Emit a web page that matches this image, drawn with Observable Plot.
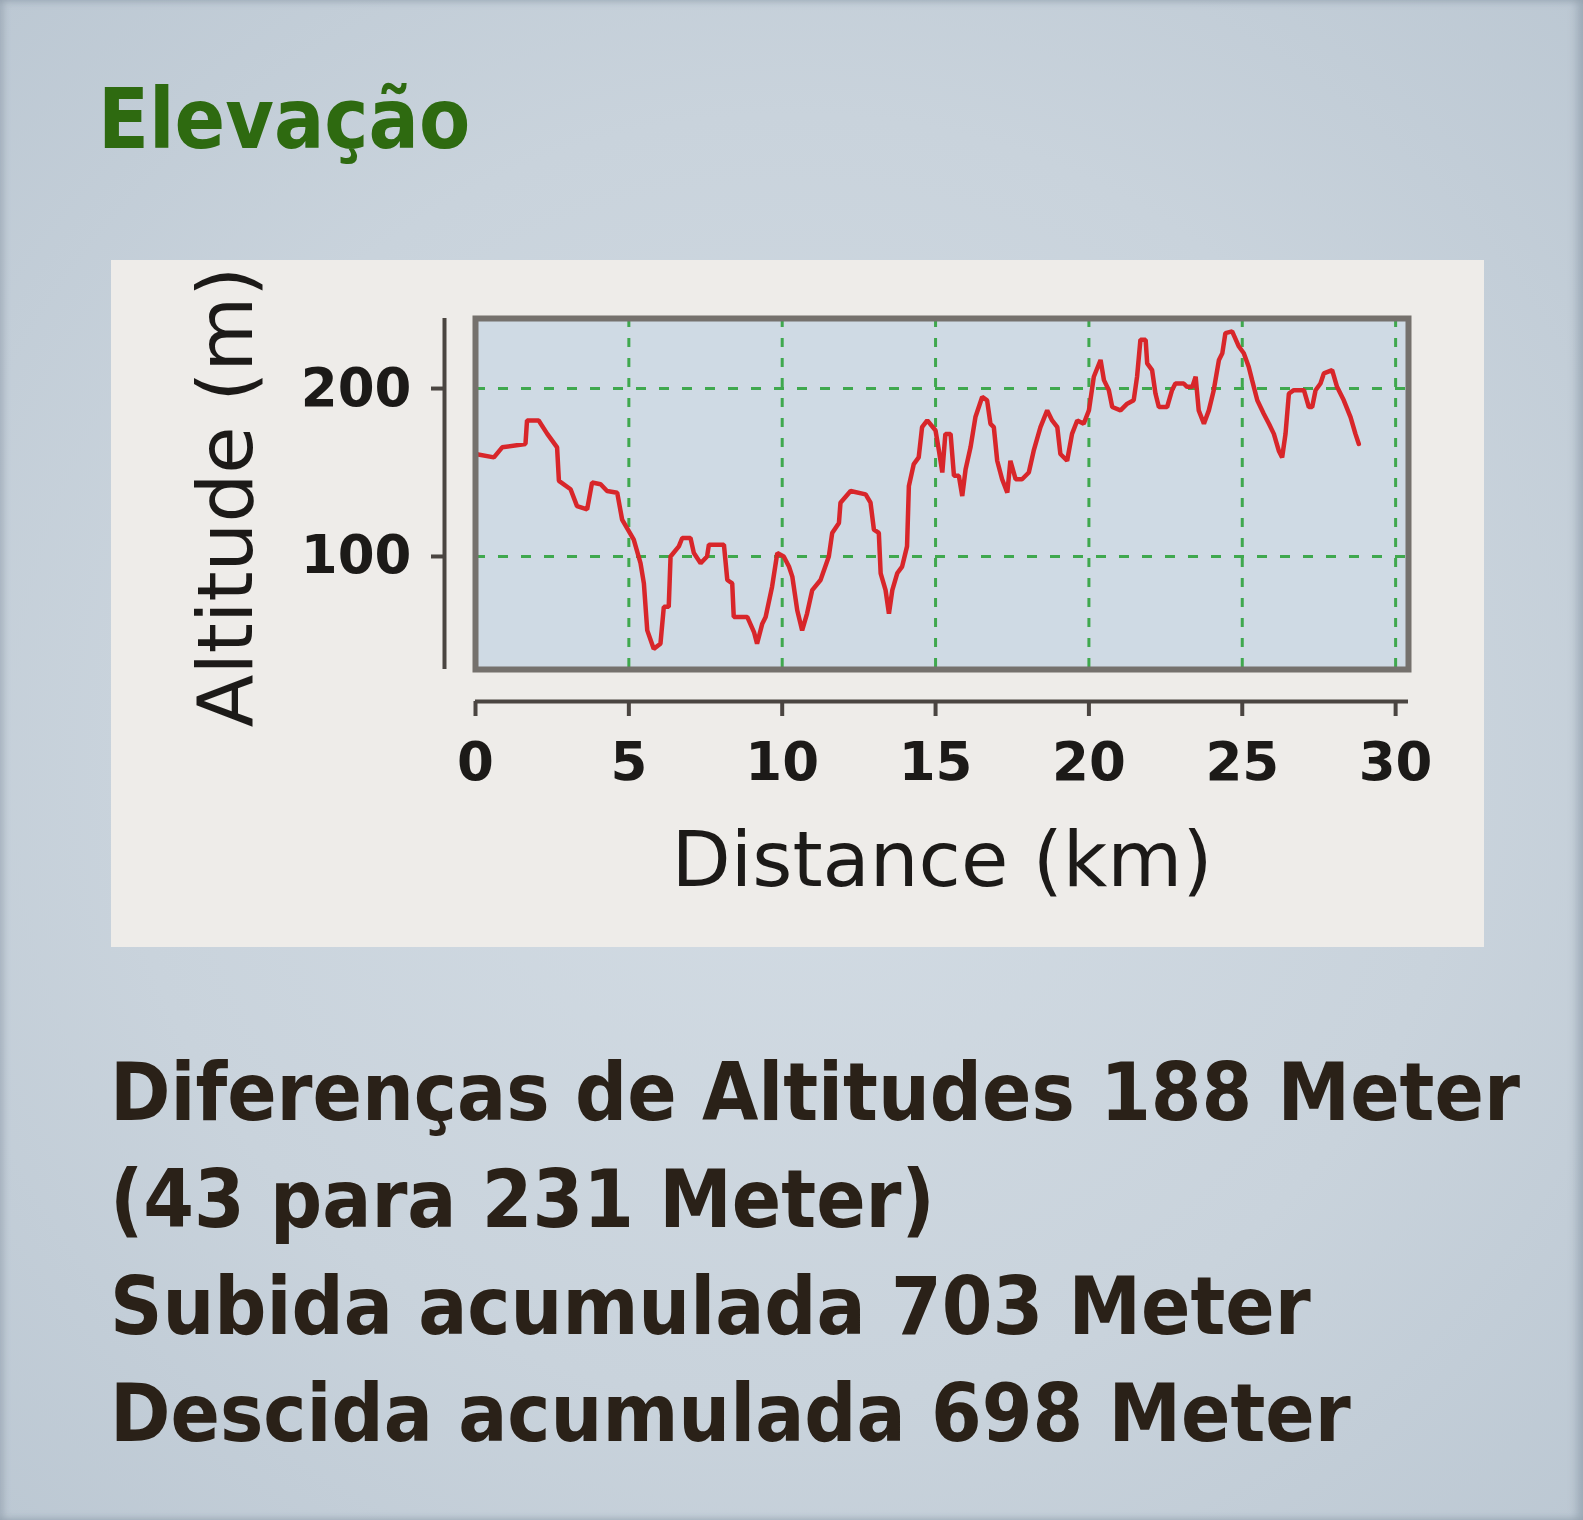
<!DOCTYPE html>
<html>
<head>
<meta charset="utf-8">
<script src="https://cdn.jsdelivr.net/npm/d3@7"></script>
<script src="https://cdn.jsdelivr.net/npm/@observablehq/plot@0.6"></script>
<style>
  html, body { margin: 0; padding: 0; }
  body {
    width: 1583px; height: 1520px; position: relative; overflow: hidden;
    background: radial-gradient(ellipse at 50% 50%, #d3dce4 0%, #c9d3dc 60%, #bcc8d3 100%);
    box-shadow: inset 4px 0 6px rgba(120,135,150,0.35), inset -6px 0 8px rgba(120,135,150,0.45);
  }
  #title {
    position: absolute; left: 98px; top: 78px;
    font-family: "DejaVu Sans Condensed", "DejaVu Sans", sans-serif;
    font-weight: bold; font-size: 83px; line-height: 83px; color: #2e6a10;
  }
  #panel {
    position: absolute; left: 111px; top: 260px; width: 1373px; height: 687px;
    background: #eeece9;
  }
  #panel svg { display: block; }
  #stats {
    position: absolute; left: 110px; top: 1039px;
    font-family: "DejaVu Sans Condensed", "DejaVu Sans", sans-serif;
    font-weight: bold; font-size: 81px; line-height: 107px; color: #2a2118;
    white-space: nowrap;
  }
</style>
</head>
<body>
<div id="title"></div>
<div id="panel"></div>
<div id="stats"></div>
<script>
// ---- data ----
const distanceKm = [0, 0.60, 0.87, 1.63, 1.68, 2.06, 2.34, 2.66, 2.72, 3.10, 3.31, 3.64, 3.80, 4.08, 4.29, 4.62, 4.78,
  5.16, 5.38, 5.49, 5.60, 5.81, 6.03, 6.14, 6.30, 6.36, 6.63, 6.74, 7.01, 7.12, 7.34, 7.55, 7.61, 8.10, 8.21, 8.37, 8.42,
  8.86, 9.08, 9.18, 9.35, 9.46, 9.67, 9.84, 10.05, 10.22, 10.33, 10.49, 10.65, 10.81, 10.98, 11.25, 11.52, 11.63, 11.85,
  11.90, 12.23, 12.72, 12.88, 12.99, 13.15, 13.21, 13.37, 13.48, 13.59, 13.75, 13.91, 14.07, 14.13, 14.29, 14.45, 14.56,
  14.73, 15.00, 15.11, 15.22, 15.32, 15.49, 15.60, 15.76, 15.87, 15.98, 16.14, 16.30, 16.52, 16.68, 16.79, 16.90, 17.01,
  17.17, 17.34, 17.44, 17.61, 17.82, 18.04, 18.20, 18.42, 18.64, 18.80, 18.97, 19.07, 19.29, 19.45, 19.62, 19.83, 20.00,
  20.16, 20.38, 20.49, 20.65, 20.76, 21.03, 21.25, 21.46, 21.57, 21.68, 21.85, 21.90, 22.06, 22.17, 22.28, 22.55, 22.71,
  22.82, 23.09, 23.20, 23.37, 23.48, 23.58, 23.75, 23.91, 24.07, 24.24, 24.35, 24.45, 24.67, 24.89, 25.05, 25.21, 25.32,
  25.49, 25.70, 25.87, 26.03, 26.19, 26.30, 26.41, 26.52, 26.68, 27.01, 27.17, 27.28, 27.39, 27.55, 27.66, 27.93, 28.09,
  28.31, 28.53, 28.69, 28.80];
const altitudeM = [161, 159, 165, 167, 181, 181, 173, 165, 145, 140, 130, 128, 144, 143, 139, 138, 122,
  110, 96, 84, 56, 45, 48, 70, 70, 100, 106, 111, 111, 102, 96, 100, 107, 107, 86, 84, 64,
  64, 55, 48, 60, 64, 82, 102, 100, 94, 88, 68, 56, 66, 80, 86, 100, 114, 120,
  132, 139, 137, 132, 116, 114, 90, 80, 66, 80, 90, 94, 106, 142, 155, 159, 177,
  181, 175, 163, 150, 173, 173, 148, 148, 136, 152, 165, 183, 195, 193, 179, 177, 157,
  146, 138, 157, 146, 146, 150, 163, 177, 187, 181, 177, 161, 157, 173, 181, 179, 187,
  207, 217, 205, 199, 189, 187, 191, 193, 207, 229, 229, 215, 211, 197, 189, 189, 199,
  203, 203, 201, 201, 207, 187, 179, 187, 199, 217, 221, 233, 234, 225, 221, 213, 205,
  193, 185, 179, 173, 163, 159, 173, 197, 199, 199, 189, 189, 199, 203, 209, 211, 201,
  193, 183, 173, 167];
const xTicks = [0, 5, 10, 15, 20, 25, 30];
const xGridTicks = [5, 10, 15, 20, 25, 30];
const yTicks = [100, 200];
const xDomain = [0, 30.42];
const yDomain = [32.7, 241.7];
const titleText = "Elevação";
const xLabel = "Distance (km)";
const yLabel = "Altitude (m)";
const statLines = [
  "Diferenças de Altitudes 188 Meter",
  "(43 para 231 Meter)",
  "Subida acumulada 703 Meter",
  "Descida acumulada 698 Meter"
];

const profile = distanceKm.map((d, i) => ({distance: d, altitude: altitudeM[i]}));

document.getElementById("title").textContent = titleText;
const stats = document.getElementById("stats");
statLines.forEach(t => { const div = document.createElement("div"); div.textContent = t; stats.appendChild(div); });

const axisColor = "#4a4541";
const chart = Plot.plot({
  width: 1373,
  height: 687,
  marginLeft: 364,
  marginRight: 76,
  marginTop: 58,
  marginBottom: 278,
  style: {background: "transparent", fontFamily: "DejaVu Sans, sans-serif", color: "#1c1a18", overflow: "visible"},
  x: {domain: xDomain},
  y: {domain: yDomain},
  marks: [
    Plot.frame({fill: "#cfdae4"}),
    Plot.gridX({ticks: xGridTicks, stroke: "#3fa84e", strokeOpacity: 1, strokeWidth: 3, strokeDasharray: "9,11"}),
    Plot.gridY({ticks: yTicks, stroke: "#3fa84e", strokeOpacity: 1, strokeWidth: 3, strokeDasharray: "10,13"}),
    Plot.ruleX([xDomain[0]], {stroke: "#2e3270", strokeWidth: 3, strokeDasharray: "6,5"}),
    Plot.line(profile, {x: "distance", y: "altitude", stroke: "#d8262a", strokeWidth: 4.5, strokeLinejoin: "miter"}),
    Plot.frame({stroke: "#75716d", strokeWidth: 6}),
    Plot.axisY({ticks: yTicks, dx: -31, tickSize: 13, tickPadding: 20, fontSize: 53, fontWeight: "bold", label: null, stroke: axisColor, strokeWidth: 4}),
    Plot.ruleX([xDomain[0]], {dx: -31, stroke: axisColor, strokeWidth: 4}),
    Plot.axisX({ticks: xTicks, dy: 32, tickSize: 15, tickPadding: 26, fontSize: 53, fontWeight: "bold", label: null, stroke: axisColor, strokeWidth: 4}),
    Plot.ruleY([yDomain[0]], {dy: 32, stroke: axisColor, strokeWidth: 4}),
    Plot.text([yLabel], {frameAnchor: "left", textAnchor: "middle", lineAnchor: "middle", rotate: -90, text: d => d, dx: -248, dy: 3, fontSize: 77, fill: "#1c1a18"}),
    Plot.text([xLabel], {frameAnchor: "bottom", textAnchor: "middle", lineAnchor: "middle", text: d => d, dy: 192, fontSize: 77, fill: "#1c1a18"})
  ]
});
document.getElementById("panel").appendChild(chart);
</script>
</body>
</html>
